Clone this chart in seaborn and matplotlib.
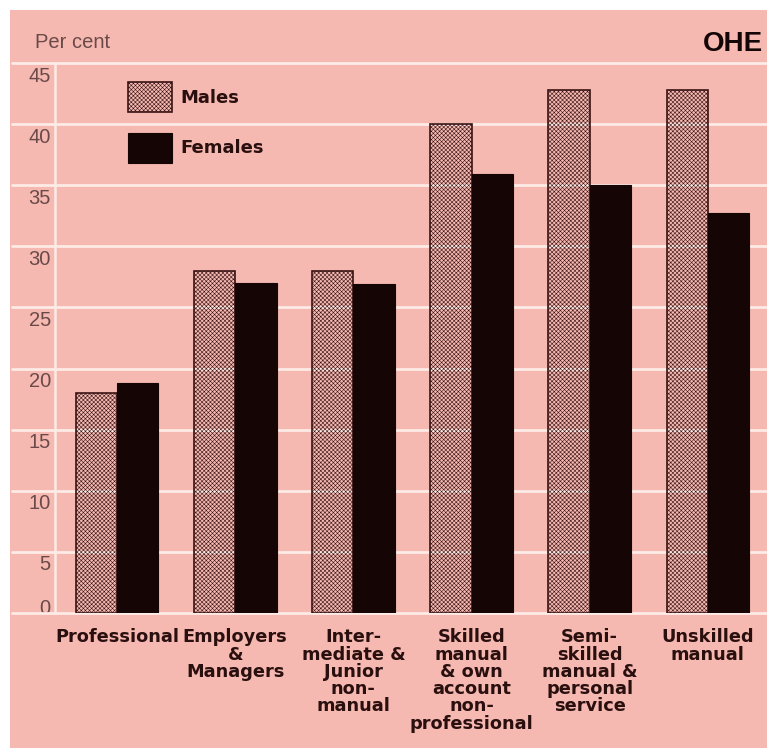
import matplotlib
matplotlib.use("Agg")
import matplotlib.pyplot as plt
import matplotlib.transforms as mtransforms
from matplotlib.patches import Rectangle
import seaborn as sns
import pandas as pd

# Socio-economic groups and the percentage for each sex
categories = [
    "Professional",
    "Employers\n&\nManagers",
    "Inter-\nmediate &\nJunior\nnon-\nmanual",
    "Skilled\nmanual\n& own\naccount\nnon-\nprofessional",
    "Semi-\nskilled\nmanual &\npersonal\nservice",
    "Unskilled\nmanual",
]
males = [18.0, 28.0, 28.0, 40.0, 42.8, 42.8]
females = [18.8, 27.0, 26.9, 35.9, 35.0, 32.7]
series_names = ["Males", "Females"]
y_ticks = [0, 5, 10, 15, 20, 25, 30, 35, 40, 45]

df = pd.DataFrame({
    "category": categories * 2,
    "value": males + females,
    "sex": [series_names[0]] * len(categories) + [series_names[1]] * len(categories),
})

PINK = "#f5b9b1"
GRID = "#fdebe6"
DARK = "#160505"
TEXT = "#6a4a48"
LABEL = "#2a0f0f"

sns.set_theme(style="white")
plt.rcParams["hatch.linewidth"] = 0.4

W, H = 767, 748
fig = plt.figure(figsize=(W / 100, H / 100), dpi=100, facecolor="white")

# pink panel behind everything
fig.patches.append(Rectangle((10 / W, 0), 1 - 10 / W, 1 - 10 / H,
                             transform=fig.transFigure, facecolor=PINK,
                             edgecolor="none", zorder=-5))

ax = fig.add_axes([55 / W, (H - 613) / H, (W - 55) / W, 550 / H])
ax.patch.set_visible(False)

sns.barplot(data=df, x="category", y="value", hue="sex", ax=ax,
            palette=[PINK, DARK], width=0.7, legend=False, saturation=1,
            zorder=3)

# males: fine dotted screen over the background, dark outline
for p in ax.containers[0]:
    p.set_facecolor("none")
    p.set_edgecolor("#3a1414")
    p.set_hatch("xxxxxxxx")
    p.set_linewidth(1.2)
for p in ax.containers[1]:
    p.set_facecolor(DARK)
    p.set_edgecolor(DARK)
    p.set_linewidth(0.8)

ax.set_ylim(0, 45)
ax.set_xlim(-0.525, 5.5)

# gridlines running across the whole panel
blend = mtransforms.blended_transform_factory(fig.transFigure, ax.transData)
for v in y_ticks:
    ax.plot([12 / W, 1], [v, v], transform=blend, color=GRID, lw=2.0,
            clip_on=False, zorder=1)

for s in ["top", "right", "bottom"]:
    ax.spines[s].set_visible(False)
ax.spines["left"].set_color(GRID)
ax.spines["left"].set_linewidth(1.8)
ax.spines["left"].set_zorder(1)

ax.set_xlabel("")
ax.set_ylabel("")
ax.set_yticks(y_ticks)
ax.set_yticklabels([str(v) for v in y_ticks], fontsize=14.5,
                   family="Liberation Sans", color=TEXT)
ax.tick_params(axis="y", length=0, pad=3)
for lab, v in zip(ax.get_yticklabels(), y_ticks):
    dy = 7 if v == 0 else -11
    lab.set_transform(lab.get_transform() +
                      mtransforms.ScaledTranslation(0, dy / 100, fig.dpi_scale_trans))

ax.set_xticks(range(len(categories)))
ax.set_xticklabels(categories, fontsize=12.8, family="DejaVu Sans",
                   fontweight="bold", color=LABEL, linespacing=0.95,
                   ha="center", va="top")
ax.tick_params(axis="x", length=0, pad=11)

# legend
handles = [ax.containers[0][0], ax.containers[1][0]]
fs_px = 13 * 100 / 72
leg = ax.legend(handles, series_names, loc="upper left",
                bbox_to_anchor=(128 / W, 1 - 82 / H),
                bbox_transform=fig.transFigure, frameon=False, borderpad=0,
                borderaxespad=0,
                handlelength=44 / fs_px, handleheight=2.18,
                handletextpad=8 / fs_px, labelspacing=1.14,
                prop={"family": "DejaVu Sans", "weight": "bold", "size": 13})
for t in leg.get_texts():
    t.set_color(LABEL)

fig.text(35 / W, 1 - 43 / H, "Per cent", fontsize=14.5, family="Liberation Sans",
         color=TEXT, ha="left", va="center")
fig.text(763 / W, 1 - 51 / H, "OHE", fontsize=20, family="Liberation Sans",
         fontweight="bold", color="#140606", ha="right", va="baseline")

fig.savefig("out.png", dpi=100, facecolor="white")
